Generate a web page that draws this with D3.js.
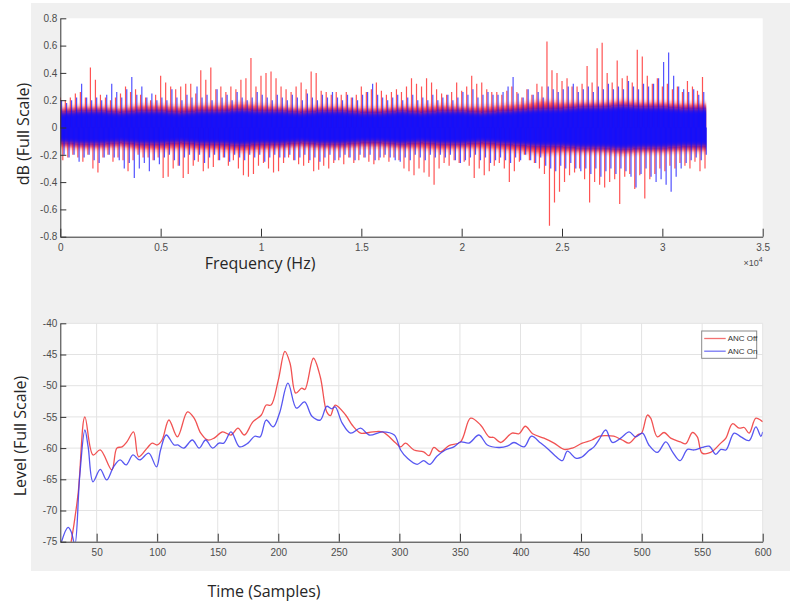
<!DOCTYPE html>
<html>
<head>
<meta charset="utf-8">
<script src="https://cdn.jsdelivr.net/npm/d3@7"></script>
<style>
  body { margin: 0; background: #fff; }
  .tick text { font-family: 'Liberation Sans Narrow', 'Liberation Sans', sans-serif; font-size: 10px; fill: #4d4d4d; }
  .tick line { stroke: #333; }
  .domain { stroke: #333; }
  .lbl { font-family: 'Open Sans', 'Noto Sans', sans-serif; font-size: 16px; fill: #262626; }
</style>
</head>
<body>
<div id="chart"></div>
<script>
// ---- top panel: signal envelope, one hi/lo pair per 250-sample bin ----
const binStep = 250;
const offHi = [
  0.22,0.2,0.22,0.25,0.26,0.22,0.44,0.35,0.24,0.22,0.2,0.22,0.25,0.3,0.26,0.28,0.24,0.22,0.2,0.24,0.38,0.33,0.3,0.28,0.3,0.32,0.32,0.25,0.42,0.35,0.44,0.28,0.3,0.26,0.3,0.28,0.35,0.36,0.51,0.3,0.38,0.4,0.41,0.36,
  0.3,0.28,0.26,0.3,0.33,0.28,0.41,0.4,0.27,0.26,0.24,0.26,0.24,0.26,0.22,0.24,0.3,0.26,0.28,0.33,0.27,0.24,0.26,0.28,0.26,0.3,0.36,0.32,0.3,0.36,0.33,0.28,0.25,0.24,0.26,0.33,0.27,0.3,0.38,0.32,0.33,0.28,0.26,
  0.26,0.24,0.27,0.3,0.26,0.22,0.28,0.24,0.32,0.3,0.63,0.42,0.4,0.34,0.36,0.3,0.3,0.32,0.45,0.33,0.58,0.62,0.4,0.33,0.49,0.36,0.38,0.33,0.57,0.52,0.38,0.32,0.36,0.3,0.32,0.28,0.3,0.26,0.34,0.3,0.27,0.37
];
const offLo = [
  -0.24,-0.22,-0.2,-0.22,-0.25,-0.2,-0.3,-0.33,-0.22,-0.2,-0.25,-0.22,-0.24,-0.32,-0.24,-0.2,-0.22,-0.22,-0.24,-0.22,-0.37,-0.36,-0.3,-0.28,-0.37,-0.34,-0.28,-0.25,-0.32,-0.3,-0.29,-0.24,-0.22,-0.28,-0.24,-0.3,-0.35,-0.36,-0.34,-0.28,-0.26,-0.3,-0.33,-0.32,
  -0.26,-0.22,-0.24,-0.27,-0.28,-0.26,-0.32,-0.31,-0.28,-0.3,-0.26,-0.24,-0.27,-0.22,-0.26,-0.24,-0.22,-0.25,-0.27,-0.24,-0.22,-0.25,-0.22,-0.24,-0.3,-0.32,-0.35,-0.3,-0.33,-0.36,-0.42,-0.3,-0.26,-0.28,-0.24,-0.26,-0.25,-0.28,-0.37,-0.3,-0.35,-0.32,-0.28,
  -0.26,-0.3,-0.4,-0.32,-0.25,-0.2,-0.24,-0.26,-0.3,-0.34,-0.72,-0.55,-0.47,-0.4,-0.35,-0.33,-0.3,-0.38,-0.55,-0.4,-0.42,-0.44,-0.4,-0.38,-0.56,-0.36,-0.34,-0.45,-0.35,-0.52,-0.38,-0.34,-0.3,-0.32,-0.28,-0.3,-0.26,-0.28,-0.3,-0.25,-0.32,-0.3
];
const onHi = [
  0.2,0.18,0.2,0.22,0.32,0.22,0.2,0.22,0.2,0.24,0.32,0.26,0.22,0.28,0.37,0.24,0.3,0.22,0.25,0.2,0.22,0.2,0.28,0.22,0.2,0.24,0.22,0.3,0.22,0.24,0.2,0.28,0.22,0.24,0.2,0.26,0.22,0.2,0.22,0.26,0.24,0.22,0.2,0.24,
  0.22,0.2,0.24,0.22,0.2,0.25,0.22,0.2,0.24,0.22,0.26,0.22,0.2,0.24,0.22,0.2,0.24,0.26,0.32,0.24,0.22,0.2,0.22,0.24,0.2,0.22,0.24,0.2,0.22,0.2,0.24,0.2,0.22,0.24,0.2,0.22,0.26,0.24,0.28,0.22,0.24,0.26,0.24,
  0.24,0.26,0.3,0.37,0.25,0.22,0.28,0.24,0.26,0.22,0.3,0.28,0.26,0.28,0.3,0.32,0.26,0.28,0.3,0.26,0.3,0.28,0.32,0.28,0.3,0.28,0.34,0.3,0.28,0.32,0.3,0.32,0.36,0.48,0.55,0.38,0.3,0.28,0.26,0.28,0.24,0.26
];
const onLo = [
  -0.2,-0.22,-0.2,-0.25,-0.22,-0.2,-0.24,-0.26,-0.22,-0.2,-0.22,-0.24,-0.3,-0.26,-0.37,-0.3,-0.26,-0.32,-0.24,-0.27,-0.22,-0.2,-0.24,-0.28,-0.22,-0.2,-0.24,-0.2,-0.26,-0.22,-0.2,-0.24,-0.22,-0.25,-0.2,-0.22,-0.24,-0.2,-0.22,-0.2,-0.25,-0.22,-0.2,-0.22,
  -0.22,-0.2,-0.24,-0.22,-0.2,-0.24,-0.22,-0.25,-0.22,-0.2,-0.24,-0.22,-0.2,-0.22,-0.24,-0.2,-0.22,-0.2,-0.24,-0.22,-0.2,-0.22,-0.24,-0.25,-0.22,-0.24,-0.2,-0.22,-0.24,-0.2,-0.22,-0.2,-0.22,-0.2,-0.24,-0.26,-0.24,-0.22,-0.2,-0.24,-0.22,-0.26,-0.24,
  -0.22,-0.24,-0.26,-0.22,-0.24,-0.2,-0.24,-0.26,-0.22,-0.28,-0.3,-0.32,-0.28,-0.3,-0.26,-0.3,-0.32,-0.3,-0.34,-0.3,-0.36,-0.32,-0.3,-0.34,-0.3,-0.32,-0.36,-0.44,-0.34,-0.3,-0.36,-0.4,-0.38,-0.42,-0.47,-0.36,-0.3,-0.26,-0.24,-0.22,-0.24,-0.2
];
// half-width of the dense core band, one value per 1000 samples
const coreStep = 1000;
const offCore = [0.14,0.15,0.15,0.14,0.16,0.16,0.15,0.16,0.16,0.17,0.16,0.15,0.14,0.15,0.15,0.14,0.14,0.15,0.15,0.16,0.15,0.15,0.16,0.17,0.19,0.18,0.18,0.18,0.19,0.18,0.18,0.17,0.17];
const onCore = [0.11,0.12,0.12,0.11,0.12,0.12,0.11,0.12,0.12,0.13,0.12,0.12,0.11,0.12,0.12,0.11,0.11,0.12,0.11,0.12,0.12,0.11,0.12,0.13,0.14,0.14,0.15,0.15,0.16,0.15,0.15,0.14,0.14];
const freqTicks = [0, 5000, 10000, 15000, 20000, 25000, 30000, 35000];
const dbTicks = [-0.8, -0.6, -0.4, -0.2, 0, 0.2, 0.4, 0.6, 0.8];

// ---- bottom panel: level curves ----
const offTime = [27,29,34.7,40.3,47,53,62.5,66.7,71,75,80.5,84.7,91.7,95.8,100,104,109.7,116.7,125,130.5,136,141.7,147,154,161,166.7,172,179,186,190,194,200,205.5,209.7,214.4,219.4,222,229,234.7,240,243,247,255.6,261,268,275,286,297,301,305,312,320,324.4,328.5,334,341,350.5,358.8,367,374,378,383.6,393,398.8,404,410,419.4,427.7,436,442.8,451,459,465,470,477,484,489.7,496.6,500,504.8,507.5,513,518.6,524,532,536.5,542,546,550,557,565.4,569.6,575,580.6,584.7,588.8,594.4,600];
const offLevel = [-77,-75,-67.3,-55,-61.1,-60.3,-63.5,-60,-59.8,-59,-57.4,-61.4,-60,-59.2,-59.5,-58.7,-55.5,-58.2,-54.2,-55.2,-57.6,-58.7,-58.4,-57.4,-57.9,-56.8,-57.9,-55.8,-54.7,-53.1,-53.1,-49.1,-44.5,-46.4,-51.2,-50.4,-50.6,-45.6,-48.6,-54.2,-54.8,-53.1,-54.7,-56.3,-57.6,-57.5,-57.4,-59.2,-59.8,-59.2,-60.3,-60.6,-61.2,-59.9,-60.6,-59.6,-59,-55.2,-56.3,-58.2,-58.3,-59.1,-57.6,-57.7,-56.5,-57.7,-58.4,-59.2,-60.2,-60,-59.2,-58.7,-58.1,-58,-58.1,-58.7,-59.2,-57.9,-57.6,-54.7,-55.2,-58.2,-57.5,-58.4,-59,-59.3,-57.5,-58.2,-60.8,-60.7,-59.2,-58.4,-56.1,-56.8,-56.7,-57.6,-55.2,-55.8];
const onTime = [20,21,26.4,29,32,36,40.3,43,47,53,58.3,64,69.4,74.4,80,85.5,93,99.4,102.8,107.5,114,117,122,129,134.7,140,145.8,151,155,161,168,175,180.5,185,190,195.8,201,208,215,221.7,227.8,234.7,240,244,247,252.8,259.7,268,275,286,295.8,301,306.5,314.7,320,325,331,338,345,350.6,357.4,365.7,372.6,382,389,394.6,403,409,416.7,423.6,429,434.6,438.7,445.6,450,456.6,460.7,465,470.4,475.9,482.8,489.7,495,500.7,506,513,520,525.5,531.8,537.9,543.4,550,555.8,561.3,565.4,569.6,576.4,582,588.8,594.4,598.5,600];
const onLevel = [-76,-75,-72.7,-73.4,-75.5,-64.6,-57.1,-59.8,-65.4,-63.4,-65.1,-63,-61.9,-62.7,-61.1,-61.9,-60.8,-63,-60.3,-57.9,-59.5,-59.5,-60,-58.7,-60,-58.7,-60,-59.2,-59.2,-57.4,-59.8,-59.2,-58.1,-58.2,-55.5,-56.6,-54.4,-49.6,-53.6,-52.6,-54.9,-55.5,-53.3,-53.7,-53.4,-56,-57.6,-56.8,-57.9,-57.4,-57.9,-60.3,-61.6,-62.6,-62,-62.6,-61.3,-60.3,-59.8,-59,-59.2,-57.9,-59.5,-59.9,-59.7,-59.1,-59.8,-58.1,-59.2,-60.3,-61.3,-62,-60.5,-61.6,-61.5,-60.4,-59.8,-58.6,-57.1,-59.1,-58.4,-57.4,-58.2,-57.6,-59.5,-60.7,-59,-60.6,-62,-60.2,-60.3,-59.9,-59.7,-61,-60.2,-60.3,-57.6,-58.2,-58.8,-56.6,-58.1,-57.4];
const timeTicks = [50, 100, 150, 200, 250, 300, 350, 400, 450, 500, 550, 600];
const levelTicks = [-75, -70, -65, -60, -55, -50, -45, -40];
const legendNames = ['ANC Off', 'ANC On'];
const lineColors = ['#ee3434', '#3a3aee'];

const W = 790, H = 608;
const svg = d3.select('#chart').append('svg').attr('width', W).attr('height', H);

// soft vertical edge for the dense core of the noise
svg.append('defs').append('filter').attr('id', 'soft')
  .attr('x', '-5%').attr('y', '-30%').attr('width', '110%').attr('height', '160%')
  .append('feGaussianBlur').attr('stdDeviation', '0 2.5');

// figure background
svg.append('rect').attr('x', 31).attr('y', 3).attr('width', W - 31).attr('height', 568).attr('fill', '#f0f0f0');

const left = 60.3, right = 762.7;

// ========== top plot ==========
const top1 = 18.3, bot1 = 236.7;
const x1 = d3.scaleLinear().domain([0, 35000]).range([left, right]);
const y1 = d3.scaleLinear().domain([-0.8, 0.8]).range([bot1, top1]);

svg.append('rect').attr('x', left).attr('y', top1).attr('width', right - left).attr('height', bot1 - top1).attr('fill', '#fff');

svg.append('clipPath').attr('id', 'clip1')
  .append('rect').attr('x', left).attr('y', top1).attr('width', right - left).attr('height', bot1 - top1);

const dataEnd = (offHi.length - 0.25) * binStep;
const band = d3.area()
  .x((d, i, arr) => x1(i === arr.length - 1 ? dataEnd : i * coreStep))
  .y0(d => y1(-d)).y1(d => y1(d));

// one up-spike and one down-spike per bin; phase staggers the two series
function spikes(g, hi, lo, phase, color, opacity) {
  const segs = [];
  hi.forEach((h, i) => {
    segs.push({ s: (i + phase) * binStep, v: h });
    segs.push({ s: (i + phase + 0.5) * binStep, v: lo[i] });
  });
  g.append('g').selectAll('line').data(segs).join('line')
    .attr('x1', d => x1(d.s)).attr('x2', d => x1(d.s))
    .attr('y1', y1(0)).attr('y2', d => y1(d.v))
    .attr('stroke', color).attr('stroke-width', 1.2).attr('stroke-opacity', opacity);
}

const sig = svg.append('g').attr('clip-path', 'url(#clip1)');
sig.append('path').attr('d', band(offCore)).attr('fill', '#ff1a1a').attr('fill-opacity', 0.85).attr('filter', 'url(#soft)');
spikes(sig, offHi, offLo, 0, '#ff1a1a', 0.75);
sig.append('path').attr('d', band(onCore)).attr('fill', '#0d0dff').attr('fill-opacity', 0.95).attr('filter', 'url(#soft)');
spikes(sig, onHi, onLo, 0.25, '#1010ff', 0.72);

const ax1 = svg.append('g').attr('transform', `translate(0,${bot1})`)
  .call(d3.axisBottom(x1).tickValues(freqTicks).tickSizeInner(-8).tickSizeOuter(0).tickFormat(d => String(d / 1e4)));
ax1.selectAll('text').attr('y', 10.6).attr('dy', '0.35em');

const ay1 = svg.append('g').attr('transform', `translate(${left},0)`)
  .call(d3.axisLeft(y1).tickValues(dbTicks).tickSizeInner(-6).tickSizeOuter(0).tickFormat(d => d === 0 ? '0' : d.toFixed(1)));
ay1.selectAll('text').attr('x', -3);

svg.append('text').attr('x', right).attr('y', 266).attr('text-anchor', 'end')
  .style('font-family', "'Liberation Sans Narrow','Liberation Sans',sans-serif").style('font-size', '9px').attr('fill', '#4d4d4d')
  .text('×10').append('tspan').attr('dy', -4).style('font-size', '7px').text('4');

svg.append('text').attr('class', 'lbl').attr('text-anchor', 'middle')
  .attr('transform', 'translate(23,134) rotate(-90)').attr('dy', '0.35em').text('dB (Full Scale)');
svg.append('text').attr('class', 'lbl').attr('text-anchor', 'middle')
  .attr('x', 260).attr('y', 263).attr('dy', '0.35em').text('Frequency (Hz)');

// ========== bottom plot ==========
const top2 = 323.3, bot2 = 541.7;
const x2 = d3.scaleLinear().domain([20, 600]).range([left, right]);
const y2 = d3.scaleLinear().domain([-75, -40]).range([bot2, top2]);

svg.append('rect').attr('x', left).attr('y', top2).attr('width', right - left).attr('height', bot2 - top2).attr('fill', '#fff');

const grid = svg.append('g').attr('stroke', '#e3e3e3').attr('stroke-width', 1);
grid.selectAll('.vg').data(timeTicks).join('line')
  .attr('x1', d => x2(d)).attr('x2', d => x2(d)).attr('y1', top2).attr('y2', bot2);
grid.selectAll('.hg').data(levelTicks.filter(d => d > -75)).join('line')
  .attr('x1', left).attr('x2', right).attr('y1', d => y2(d)).attr('y2', d => y2(d));

svg.append('clipPath').attr('id', 'clip2')
  .append('rect').attr('x', left).attr('y', top2).attr('width', right - left).attr('height', bot2 - top2);

const curves = [
  offTime.map((t, i) => [t, offLevel[i]]),
  onTime.map((t, i) => [t, onLevel[i]])
];
const line2 = d3.line().x(d => x2(d[0])).y(d => y2(d[1])).curve(d3.curveCatmullRom.alpha(0.5));
svg.append('g').attr('clip-path', 'url(#clip2)')
  .selectAll('path').data(curves).join('path')
  .attr('d', line2).attr('fill', 'none')
  .attr('stroke', (d, i) => lineColors[i]).attr('stroke-width', 1.3).attr('stroke-opacity', 0.85);

const ax2 = svg.append('g').attr('transform', `translate(0,${bot2})`)
  .call(d3.axisBottom(x2).tickValues(timeTicks).tickSizeInner(-8).tickSizeOuter(0));
ax2.selectAll('text').attr('y', 10.6).attr('dy', '0.35em');

const ay2 = svg.append('g').attr('transform', `translate(${left},0)`)
  .call(d3.axisLeft(y2).tickValues(levelTicks).tickSizeInner(-6).tickSizeOuter(0).tickFormat(d => String(d)));
ay2.selectAll('text').attr('x', -3);

svg.append('text').attr('class', 'lbl').attr('text-anchor', 'middle')
  .attr('transform', 'translate(20,436) rotate(-90)').attr('dy', '0.35em').text('Level (Full Scale)');
svg.append('text').attr('class', 'lbl').attr('text-anchor', 'middle')
  .attr('x', 264).attr('y', 591).attr('dy', '0.35em').text('Time (Samples)');

// legend
const lg = svg.append('g').attr('transform', 'translate(701.7,331)');
lg.append('rect').attr('width', 55).attr('height', 27.3).attr('fill', '#fff').attr('stroke', '#8a8a8a').attr('stroke-width', 1);
legendNames.forEach((name, i) => {
  const cy = 7.5 + i * 12.7;
  lg.append('line').attr('x1', 2.5).attr('x2', 24).attr('y1', cy).attr('y2', cy)
    .attr('stroke', lineColors[i]).attr('stroke-width', 1.3).attr('stroke-opacity', 0.7);
  lg.append('text').attr('x', 26).attr('y', cy).attr('dy', '0.35em')
    .style('font-family', "'Liberation Sans Narrow','Liberation Sans',sans-serif").style('font-size', '8px')
    .attr('fill', '#333').text(name);
});
</script>
</body>
</html>
